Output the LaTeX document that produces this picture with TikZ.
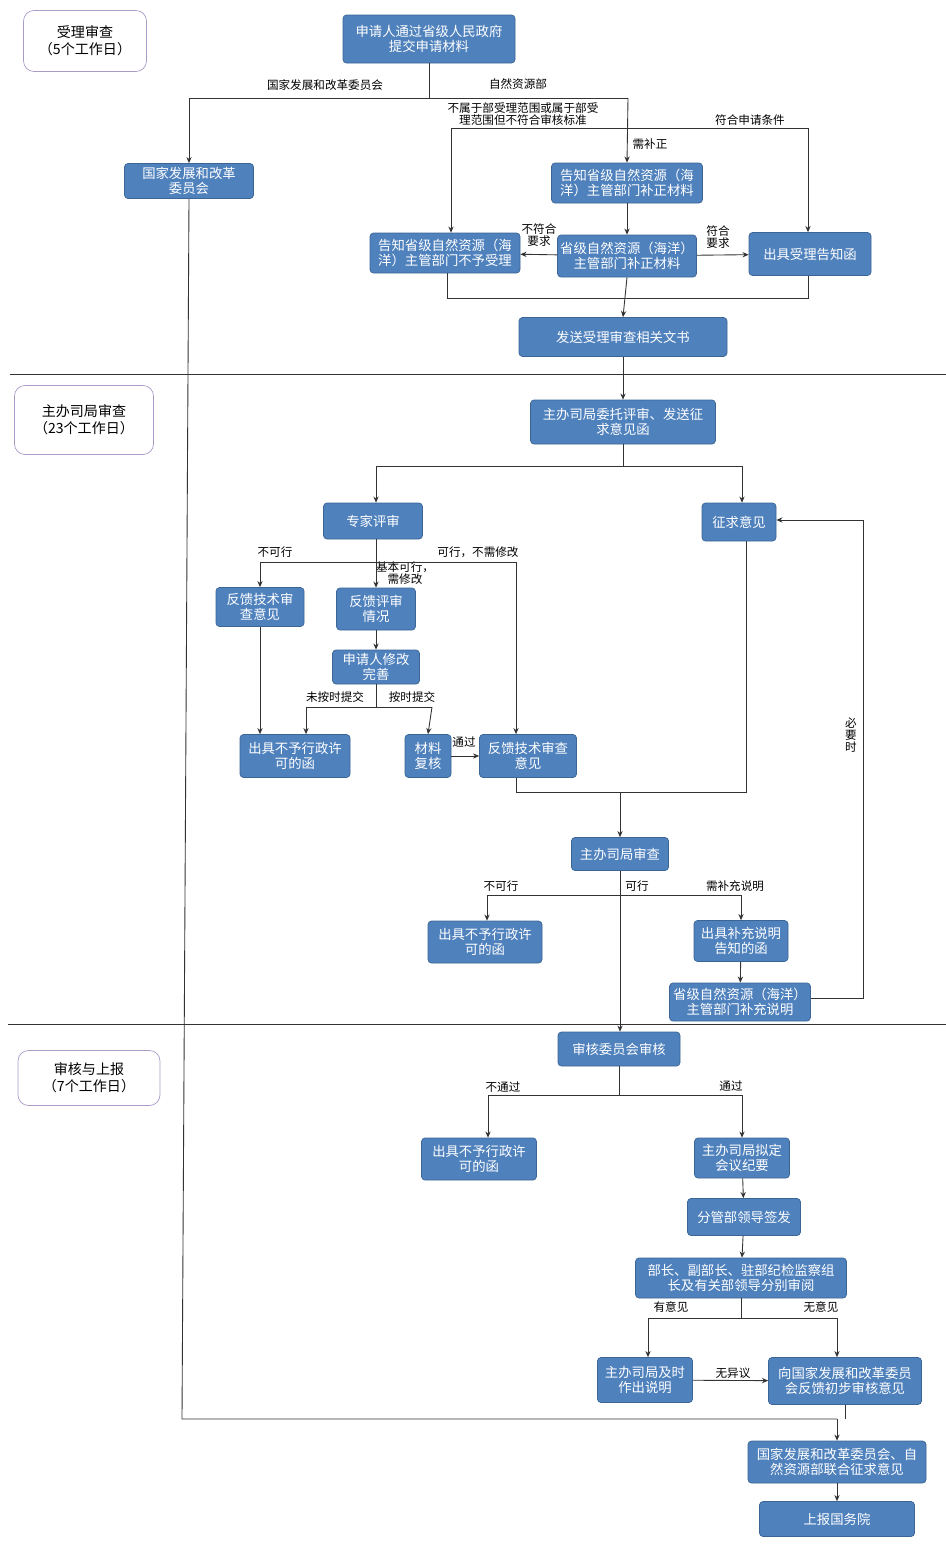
\documentclass[tikz,border=0pt]{standalone}
\usepackage{fontspec}
\setmainfont{Noto Sans CJK SC}
\usetikzlibrary{arrows.meta}
\definecolor{boxfill}{HTML}{4F81BD}
\definecolor{boxline}{HTML}{3A6594}
\definecolor{phaseline}{HTML}{A99BC6}
\definecolor{wire}{HTML}{333333}
\begin{document}
\begin{tikzpicture}[x=0.02cm,y=-0.02cm,
    box/.style 2 args={draw=boxline,fill=boxfill,rounded corners=2pt,text=white,align=center,
        inner sep=0pt,minimum width=#1*0.02cm,minimum height=#2*0.02cm,
        font=\fontsize{7.6}{8.4}\selectfont},
    phase/.style 2 args={draw=phaseline,fill=white,rounded corners=6pt,align=center,
        inner sep=0pt,minimum width=#1*0.02cm,minimum height=#2*0.02cm,
        font=\fontsize{8}{9.6}\selectfont},
    lab/.style={inner sep=0pt,align=center,font=\fontsize{6.6}{7}\selectfont},
    line/.style={draw=wire,line width=0.5pt},
    arr/.style={line,-{Stealth[length=3.5pt,width=3pt]}}]
    \useasboundingbox (0,0) rectangle (946,1552);

    % phases
    \node[phase={123}{61}] (P1) at (85,41) {受理审查\\（5个工作日）};
    \node[phase={139}{69}] (P2) at (84,420) {主办司局审查\\（23个工作日）};
    \node[phase={142}{55}] (P3) at (89,1078) {审核与上报\\（7个工作日）};
    \coordinate (S1a) at (10,374); \coordinate (S1b) at (946,374);
    \coordinate (S2a) at (8,1024); \coordinate (S2b) at (946,1024);
    \draw[line] (S1a) -- (S1b);
    \draw[line] (S2a) -- (S2b);

    % nodes
    \node[box={172}{48}] (N1) at (429,39) {申请人通过省级人民政府\\提交申请材料};
    \node[box={129}{35}] (N2) at (189,181) {国家发展和改革\\委员会};
    \node[box={151}{40}] (N3) at (627,183) {告知省级自然资源（海\\洋）主管部门补正材料};
    \node[box={150}{40}] (N4) at (445,253) {告知省级自然资源（海\\洋）主管部门不予受理};
    \node[box={139}{42}] (N5) at (627,256) {省级自然资源（海洋）\\主管部门补正材料};
    \node[box={122}{43}] (N6) at (810,254) {出具受理告知函};
    \node[box={208}{39}] (N7) at (623,337) {发送受理审查相关文书};
    \node[box={185}{44}] (N8) at (623,422) {主办司局委托评审、发送征\\求意见函};
    \node[box={99}{36}] (N9) at (373,521) {专家评审};
    \node[box={74}{38}] (N10) at (739,522) {征求意见};
    \node[box={88}{39}] (N11) at (260,607) {反馈技术审\\查意见};
    \node[box={79}{42}] (N12) at (376,609) {反馈评审\\情况};
    \node[box={87}{34}] (N13) at (376,667) {申请人修改\\完善};
    \node[box={110}{43}] (N14) at (295,756) {出具不予行政许\\可的函};
    \node[box={46}{43}] (N15) at (428,756) {材料\\复核};
    \node[box={97}{43}] (N16) at (528,756) {反馈技术审查\\意见};
    \node[box={97}{33}] (N17) at (620,854) {主办司局审查};
    \node[box={114}{42}] (N18) at (485,942) {出具不予行政许\\可的函};
    \node[box={94}{41}] (N19) at (741,941) {出具补充说明\\告知的函};
    \node[box={141}{38}] (N20) at (740,1002) {省级自然资源（海洋）\\主管部门补充说明};
    \node[box={122}{34}] (N21) at (619,1049) {审核委员会审核};
    \node[box={115}{42}] (N22) at (479,1159) {出具不予行政许\\可的函};
    \node[box={95}{40}] (N23) at (742,1158) {主办司局拟定\\会议纪要};
    \node[box={113}{37}] (N24) at (744,1217) {分管部领导签发};
    \node[box={211}{40}] (N25) at (741,1278) {部长、副部长、驻部纪检监察组\\长及有关部领导分别审阅};
    \node[box={95}{45}] (N26) at (645,1380) {主办司局及时\\作出说明};
    \node[box={153}{47}] (N27) at (845,1381) {向国家发展和改革委员\\会反馈初步审核意见};
    \node[box={178}{42}] (N28) at (837,1462) {国家发展和改革委员会、自\\然资源部联合征求意见};
    \node[box={155}{35}] (N29) at (837,1519) {上报国务院};

    % labels
    \node[lab] (L1) at (325,85) {国家发展和改革委员会};
    \node[lab] (L2) at (518,84) {自然资源部};
    \node[lab] (L3) at (523,114) {不属于部受理范围或属于部受\\理范围但不符合审核标准};
    \node[lab] (L4) at (750,120) {符合申请条件};
    \node[lab] (L5) at (650,144) {需补正};
    \node[lab] (L6) at (539,235) {不符合\\要求};
    \node[lab] (L7) at (718,237) {符合\\要求};
    \node[lab] (L8) at (275,552) {不可行};
    \node[lab] (L9) at (405,573) {基本可行，\\需修改};
    \node[lab] (L10) at (478,552) {可行，不需修改};
    \node[lab] (L11) at (335,697) {未按时提交};
    \node[lab] (L12) at (412,697) {按时提交};
    \node[lab] (L13) at (464,742) {通过};
    \node[lab] (L14) at (851,735) {必\\要\\时};
    \node[lab] (L15) at (501,886) {不可行};
    \node[lab] (L16) at (637,886) {可行};
    \node[lab] (L17) at (735,886) {需补充说明};
    \node[lab] (L18) at (503,1087) {不通过};
    \node[lab] (L19) at (731,1086) {通过};
    \node[lab] (L20) at (671,1307) {有意见};
    \node[lab] (L21) at (821,1307) {无意见};
    \node[lab] (L22) at (733,1373) {无异议};

    % acceptance
    \draw[line] (N1.south) -- (429,98);
    \draw[arr] (628,98) -- (189,98) -- (N2.north);
    \draw[arr] (628,98) -- (N3.north);
    \draw[arr] (451,128) -- (808,128) -- (808,128 |- N6.north);
    \draw[arr] (451,128) -- (451,128 |- N4.north);
    \draw[arr] (N3) -- (N5);
    \draw[arr] (N5) -- (N4);
    \draw[arr] (N5) -- (N6);
    \draw[line] (447,273) -- (447,298) -- (808,298) -- (808,276);
    \draw[arr] (N5.south) -- (N7.north);
    \draw[arr] (N7) -- (N8);

    % department review
    \draw[line] (N8.south) -- (623,466);
    \draw[arr] (376,466) -- (742,466) -- (742,466 |- N10.north);
    \draw[arr] (376,466) -- (376,466 |- N9.north);
    \draw[line] (376,539) -- (376,562);
    \draw[arr] (516,562) -- (260,562) -- (N11.north);
    \draw[arr] (376,562) -- (N12.north);
    \draw[arr] (516,562) -- (516,562 |- N16.north);
    \draw[arr] (N12) -- (N13);
    \draw[line] (N13.south) -- (376,707);
    \draw[arr] (432,707) -- (306,707) -- (306,707 |- N14.north);
    \draw[arr] (432,707) -- (N15.north);
    \draw[arr] (N11.south) -- (N11.south |- N14.north);
    \draw[arr] (N15) -- (N16);
    \draw[line] (516,778) -- (516,792) -- (746,792) -- (746,541);
    \draw[arr] (620,792) -- (N17.north);
    \draw[line] (N17.south) -- (620,895);
    \draw[arr] (741,895) -- (487,895) -- (487,895 |- N18.north);
    \draw[arr] (620,895) -- (741,895) -- (N19.north);
    \draw[arr] (620,895) -- (620,895 |- N21.north);
    \draw[arr] (N19) -- (N20);
    \draw[arr] (N20.east |- 0,998) -- (863,998) -- (863,520) -- (N10.east |- 0,520);

    % final review
    \draw[line] (N21.south) -- (619,1095);
    \draw[arr] (742,1095) -- (488,1095) -- (488,1095 |- N22.north);
    \draw[arr] (619,1095) -- (742,1095) -- (N23.north);
    \draw[arr] (N23) -- (N24);
    \draw[arr] (N24) -- (N25);
    \draw[line] (N25.south) -- (741,1318);
    \draw[arr] (837,1318) -- (648,1318) -- (648,1318 |- N26.north);
    \draw[arr] (741,1318) -- (837,1318) -- (837,1318 |- N27.north);
    \draw[arr] (N26) -- (N27);
    \draw[line] (N2.south) -- (182,1419) -- (837,1419);
    \draw[line] (N27.south) -- (845,1419);
    \draw[arr] (837,1419) -- (N28.north);
    \draw[arr] (N28) -- (N29);
\end{tikzpicture}
\end{document}
